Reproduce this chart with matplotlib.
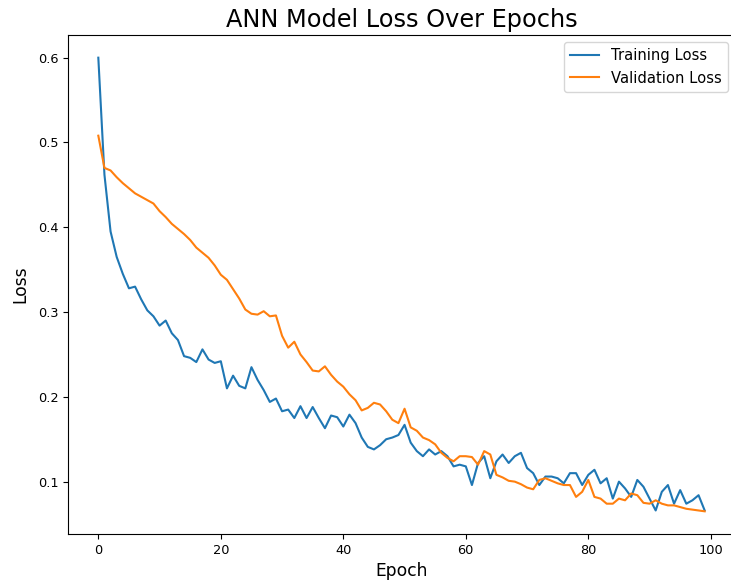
import matplotlib
matplotlib.use('Agg')
import matplotlib.pyplot as plt

# Loss values per epoch
epochs = list(range(100))

training_loss = [
    0.600, 0.462, 0.395, 0.365, 0.345, 0.328, 0.330, 0.315, 0.302, 0.295,
    0.284, 0.290, 0.275, 0.267, 0.248, 0.246, 0.241, 0.256, 0.244, 0.240,
    0.242, 0.210, 0.225, 0.213, 0.210, 0.235, 0.220, 0.208, 0.194, 0.198,
    0.183, 0.185, 0.175, 0.189, 0.175, 0.188, 0.175, 0.163, 0.178, 0.176,
    0.165, 0.179, 0.169, 0.152, 0.141, 0.138, 0.143, 0.150, 0.152, 0.155,
    0.167, 0.146, 0.136, 0.130, 0.138, 0.132, 0.136, 0.130, 0.118, 0.120,
    0.118, 0.096, 0.122, 0.130, 0.104, 0.124, 0.132, 0.122, 0.130, 0.134,
    0.116, 0.110, 0.096, 0.106, 0.106, 0.104, 0.098, 0.110, 0.110, 0.096,
    0.108, 0.114, 0.098, 0.104, 0.080, 0.100, 0.092, 0.082, 0.102, 0.094,
    0.080, 0.066, 0.088, 0.096, 0.074, 0.090, 0.074, 0.078, 0.084, 0.066,
]

validation_loss = [
    0.508, 0.470, 0.467, 0.459, 0.452, 0.446, 0.440, 0.436, 0.432, 0.428,
    0.419, 0.412, 0.404, 0.398, 0.392, 0.385, 0.376, 0.370, 0.364, 0.355,
    0.344, 0.338, 0.327, 0.316, 0.303, 0.298, 0.297, 0.301, 0.295, 0.296,
    0.272, 0.258, 0.265, 0.250, 0.241, 0.231, 0.230, 0.236, 0.226, 0.218,
    0.212, 0.203, 0.196, 0.184, 0.187, 0.193, 0.191, 0.183, 0.173, 0.169,
    0.186, 0.164, 0.160, 0.152, 0.149, 0.144, 0.134, 0.128, 0.124, 0.130,
    0.130, 0.129, 0.120, 0.136, 0.132, 0.108, 0.105, 0.101, 0.100, 0.097,
    0.093, 0.091, 0.102, 0.104, 0.101, 0.098, 0.096, 0.096, 0.082, 0.088,
    0.102, 0.082, 0.080, 0.074, 0.074, 0.080, 0.078, 0.086, 0.084, 0.075,
    0.074, 0.078, 0.074, 0.072, 0.072, 0.070, 0.068, 0.067, 0.066, 0.065,
]

fig = plt.figure(figsize=(7.31, 5.83), dpi=100)
# axes run a little past the right edge, like the cropped original
ax = fig.add_axes([68 / 731, 49 / 583, 667 / 731, 499 / 583])

ax.plot(epochs, training_loss, label='Training Loss')
ax.plot(epochs, validation_loss, label='Validation Loss')

ax.set_title('ANN Model Loss Over Epochs', fontsize=17.3)
ax.set_xlabel('Epoch', fontsize=12.3)
ax.set_ylabel('Loss', fontsize=12.3, labelpad=6)
ax.tick_params(labelsize=9.3)
ax.set_yticks([0.1, 0.2, 0.3, 0.4, 0.5, 0.6])
ax.spines['right'].set_visible(False)
ax.legend(fontsize=10.6)

fig.savefig('out.png', dpi=100)
